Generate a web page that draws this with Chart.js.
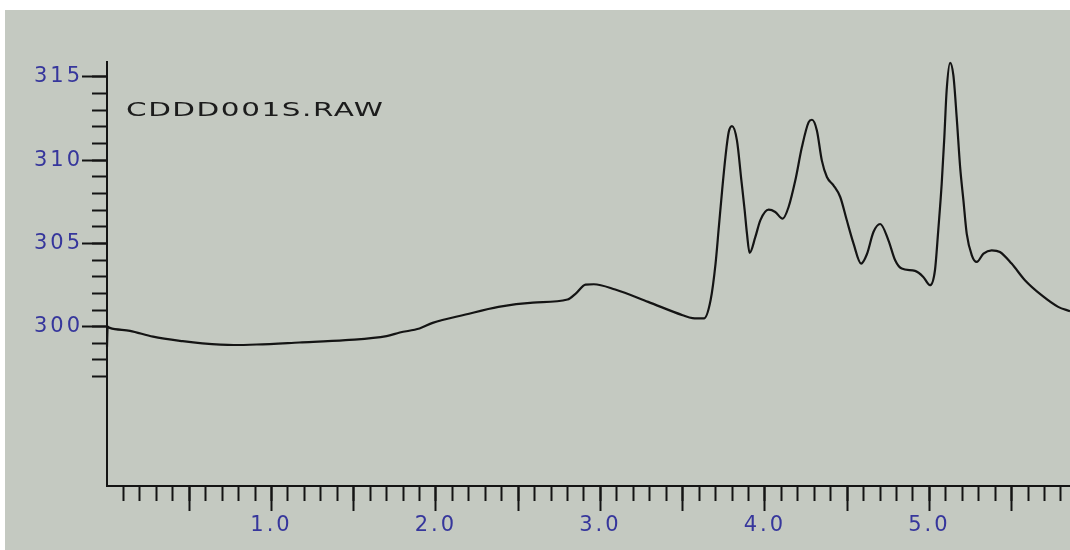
<!DOCTYPE html>
<html>
<head>
<meta charset="utf-8">
<script src="https://cdn.jsdelivr.net/npm/chart.js@4/dist/chart.umd.min.js"></script>
<style>
  html, body { margin: 0; padding: 0; background: #ffffff; }
  canvas { display: block; }
</style>
</head>
<body>
<canvas id="chart" width="1070" height="550"></canvas>
<script>
// Trace (time, signal)
const times = [0.000, 0.004, 0.017, 0.14, 0.28, 0.46, 0.58, 0.77, 0.91, 1.17, 1.45, 1.70, 1.78, 1.90, 1.98,
  2.18, 2.38, 2.59, 2.80, 2.85, 2.91, 2.96, 3.09, 3.29, 3.50, 3.56, 3.63, 3.67, 3.70, 3.72,
  3.74, 3.76, 3.78, 3.80, 3.83, 3.857, 3.877, 3.891, 3.907, 3.942, 3.972, 4.023, 4.063, 4.108, 4.144,
  4.185, 4.225, 4.266, 4.286, 4.316, 4.346, 4.377, 4.417, 4.458, 4.498, 4.539, 4.585, 4.620, 4.660,
  4.701, 4.751, 4.792, 4.832, 4.913, 4.963, 5.004, 5.034, 5.054, 5.075, 5.091, 5.105, 5.126, 5.146,
  5.166, 5.187, 5.207, 5.227, 5.258, 5.288, 5.329, 5.379, 5.429, 5.500, 5.581, 5.682, 5.783, 5.855];
const signal = [298.8, 300.0, 299.93, 299.75, 299.40, 299.13, 299.00, 298.90, 298.93, 299.05, 299.19, 299.43, 299.65, 299.89, 300.23,
  300.73, 301.19, 301.45, 301.63, 301.99, 302.53, 302.55, 302.23, 301.49, 300.69, 300.52, 300.50, 301.60, 303.79, 305.99,
  308.19, 310.19, 311.69, 312.05, 311.19, 308.79, 306.99, 305.59, 304.43, 305.39, 306.39, 307.03, 306.89, 306.49, 307.19,
  308.79, 310.79, 312.29, 312.43, 311.79, 309.99, 308.99, 308.49, 307.79, 306.39, 304.99, 303.79, 304.35, 305.69,
  306.17, 305.19, 303.99, 303.49, 303.35, 302.99, 302.49, 303.39, 305.79, 308.59, 311.39, 314.19, 315.85, 315.09,
  312.59, 309.59, 307.59, 305.59, 304.29, 303.89, 304.39, 304.59, 304.49, 303.79, 302.79, 301.89, 301.19, 300.93];

// Axis ranges and ticks
const xMin = 0, xMax = 5.855;
const yMin = 290.43, yMax = 315.9;
const xMajorTicks = [0.5, 1, 1.5, 2, 2.5, 3, 3.5, 4, 4.5, 5, 5.5];
const xLabelTicks = [1, 2, 3, 4, 5];
const xTickLabels = ['1.0', '2.0', '3.0', '4.0', '5.0'];
const xMinorTicks = [0.1, 0.2, 0.3, 0.4, 0.5, 0.6, 0.7, 0.8, 0.9, 1.0, 1.1, 1.2, 1.3, 1.4, 1.5, 1.6, 1.7, 1.8, 1.9, 2.0,
  2.1, 2.2, 2.3, 2.4, 2.5, 2.6, 2.7, 2.8, 2.9, 3.0, 3.1, 3.2, 3.3, 3.4, 3.5, 3.6, 3.7, 3.8, 3.9, 4.0,
  4.1, 4.2, 4.3, 4.4, 4.5, 4.6, 4.7, 4.8, 4.9, 5.0, 5.1, 5.2, 5.3, 5.4, 5.5, 5.6, 5.7, 5.8];
const yMajorTicks = [300, 305, 310, 315];
const yTickLabels = ['300', '305', '310', '315'];
const yMinorTicks = [297, 298, 299, 300, 301, 302, 303, 304, 305, 306, 307, 308, 309, 310, 311, 312, 313, 314, 315];
const traceName = 'CDDD001S.RAW';

const ink = '#141414';
const labelBlue = '#36369c';
const tickFont = { family: 'DejaVu Sans', size: 21 };

// gray panel, letter spacing for the wide look, and the file name
const panelPlugin = {
  id: 'panel',
  beforeDraw(chart) {
    const ctx = chart.ctx;
    ctx.save();
    ctx.fillStyle = '#c4c9c1';
    ctx.fillRect(5, 10, chart.width - 5, chart.height - 10);
    ctx.restore();
    ctx.letterSpacing = '3px';
  },
  afterDraw(chart) {
    const ctx = chart.ctx;
    ctx.save();
    ctx.letterSpacing = '1px';
    ctx.font = '19px "DejaVu Sans"';
    ctx.fillStyle = '#1c1c1c';
    ctx.textBaseline = 'alphabetic';
    const w = ctx.measureText(traceName).width - 1;
    ctx.translate(126, 115.5);
    ctx.scale(257 / w, 1);
    ctx.fillText(traceName, 0, 0);
    ctx.restore();
  }
};

const points = times.map((t, i) => ({ x: t, y: signal[i] }));

new Chart(document.getElementById('chart'), {
  type: 'line',
  data: {
    datasets: [{
      data: points,
      borderColor: ink,
      borderWidth: 2.2,
      pointRadius: 0,
      fill: false,
      cubicInterpolationMode: 'monotone',
      clip: 6
    }]
  },
  options: {
    responsive: false,
    animation: false,
    devicePixelRatio: 1,
    layout: { padding: { top: 62, left: 0, right: 0, bottom: 0 } },
    plugins: { legend: { display: false }, tooltip: { enabled: false } },
    scales: {
      x: {
        type: 'linear', position: 'bottom', min: xMin, max: xMax,
        afterBuildTicks: s => { s.ticks = xMajorTicks.map(v => ({ value: v })); },
        afterFit: s => { s.height = 64; },
        grid: { drawOnChartArea: false, tickLength: 25, tickWidth: 2, tickColor: ink },
        border: { display: true, color: ink, width: 2 },
        ticks: {
          autoSkip: false, maxRotation: 0, padding: 2, color: labelBlue, font: tickFont,
          callback: v => { const i = xLabelTicks.indexOf(v); return i >= 0 ? xTickLabels[i] : ''; }
        }
      },
      xMinor: {
        type: 'linear', axis: 'x', position: { y: yMin }, min: xMin, max: xMax,
        afterBuildTicks: s => { s.ticks = xMinorTicks.map(v => ({ value: v })); },
        grid: { drawOnChartArea: false, tickLength: 15, tickWidth: 2, tickColor: ink },
        border: { display: false },
        ticks: { display: false }
      },
      y: {
        type: 'linear', position: 'left', min: yMin, max: yMax,
        afterBuildTicks: s => { s.ticks = yMajorTicks.map(v => ({ value: v })); },
        afterFit: s => { s.width = 107; },
        grid: { drawOnChartArea: false, tickLength: 25, tickWidth: 2, tickColor: ink },
        border: { display: true, color: ink, width: 2 },
        ticks: {
          autoSkip: false, padding: -1, color: labelBlue, font: tickFont,
          callback: v => { const i = yMajorTicks.indexOf(v); return i >= 0 ? yTickLabels[i] : ''; }
        }
      },
      yMinor: {
        type: 'linear', axis: 'y', position: { x: xMin }, min: yMin, max: yMax,
        afterBuildTicks: s => { s.ticks = yMinorTicks.map(v => ({ value: v })); },
        grid: { drawOnChartArea: false, tickLength: 15, tickWidth: 2, tickColor: ink },
        border: { display: false },
        ticks: { display: false }
      }
    }
  },
  plugins: [panelPlugin]
});
</script>
</body>
</html>
